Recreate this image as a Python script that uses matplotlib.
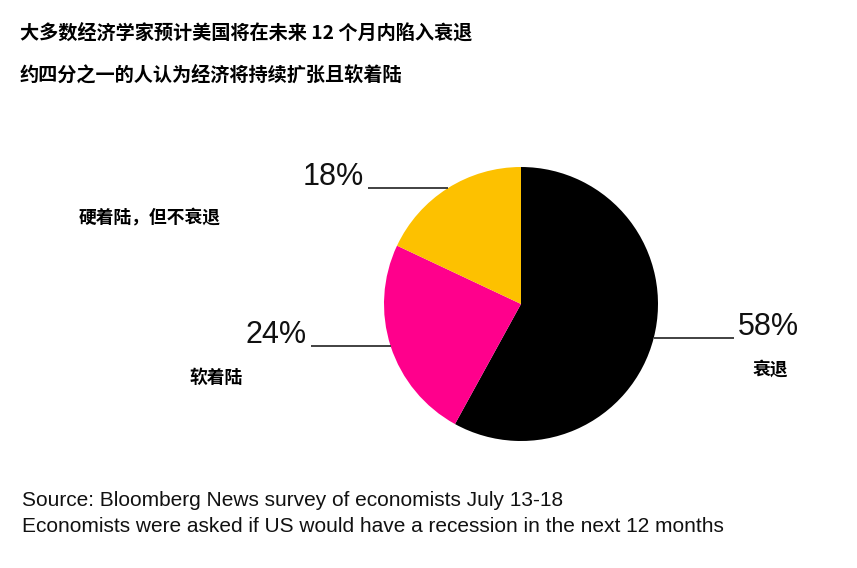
import matplotlib.pyplot as plt
import numpy as np

# chart data
labels = ['衰退', '软着陆', '硬着陆，但不衰退']
shares = [58, 24, 18]
colors = ['#000000', '#FF008C', '#FDC100']

title_lines = ['大多数经济学家预计美国将在未来 12 个月内陷入衰退',
               '约四分之一的人认为经济将持续扩张且软着陆']
source_lines = ['Source: Bloomberg News survey of economists July 13-18',
                'Economists were asked if US would have a recession in the next 12 months']

W, H = 857, 568
CJK = ['Noto Sans CJK SC', 'DejaVu Sans']
plt.rcParams['font.family'] = CJK

fig = plt.figure(figsize=(W / 100, H / 100), dpi=100)
ax = fig.add_axes([0, 0, 1, 1])

# pie, drawn in pixel-like coords (y up)
cx, cy, r = 521, H - 304, 137
wedges, _ = ax.pie(shares, colors=colors, startangle=90, counterclock=False,
                   center=(cx, cy), radius=r,
                   wedgeprops=dict(linewidth=0))
ax.set_xlim(0, W)
ax.set_ylim(0, H)
ax.set_aspect('equal')
ax.axis('off')

# leader lines from wedge midpoints + percentage labels
line_len = 80
for w, val in zip(wedges, shares):
    ang = np.deg2rad((w.theta1 + w.theta2) / 2)
    x0 = cx + r * np.cos(ang)
    y0 = cy + r * np.sin(ang)
    side = -1 if np.cos(ang) < 0 else 1
    x1 = x0 + side * line_len
    ax.plot([x0, x1], [y0, y0], color='#333333', lw=1.3, solid_capstyle='butt')
    ax.text(x1 + side * 4, y0 + 3, f'{val}%', fontsize=22,
            family='Liberation Sans', color='#111111',
            ha='left' if side > 0 else 'right', va='baseline')

# category labels
label_pos = {'衰退': (770, 370), '软着陆': (216, 378), '硬着陆，但不衰退': (150, 218)}
for lab in labels:
    x, y = label_pos[lab]
    ax.text(x, H - y, lab, fontsize=12.8, fontweight='bold', family=CJK,
            ha='center', va='center', color='#000000')

# titles
ax.text(20, H - 33, title_lines[0], fontsize=13.8, fontweight='bold', family=CJK,
        ha='left', va='center', color='#000000')
ax.text(20, H - 75, title_lines[1], fontsize=13.8, fontweight='bold', family=CJK,
        ha='left', va='center', color='#000000')

# source note
ax.text(22, H - 500, source_lines[0], fontsize=15, family='Liberation Sans',
        ha='left', va='center', color='#111111')
ax.text(22, H - 527, source_lines[1], fontsize=15, family='Liberation Sans',
        ha='left', va='center', color='#111111')

fig.savefig('out.png', dpi=100)
